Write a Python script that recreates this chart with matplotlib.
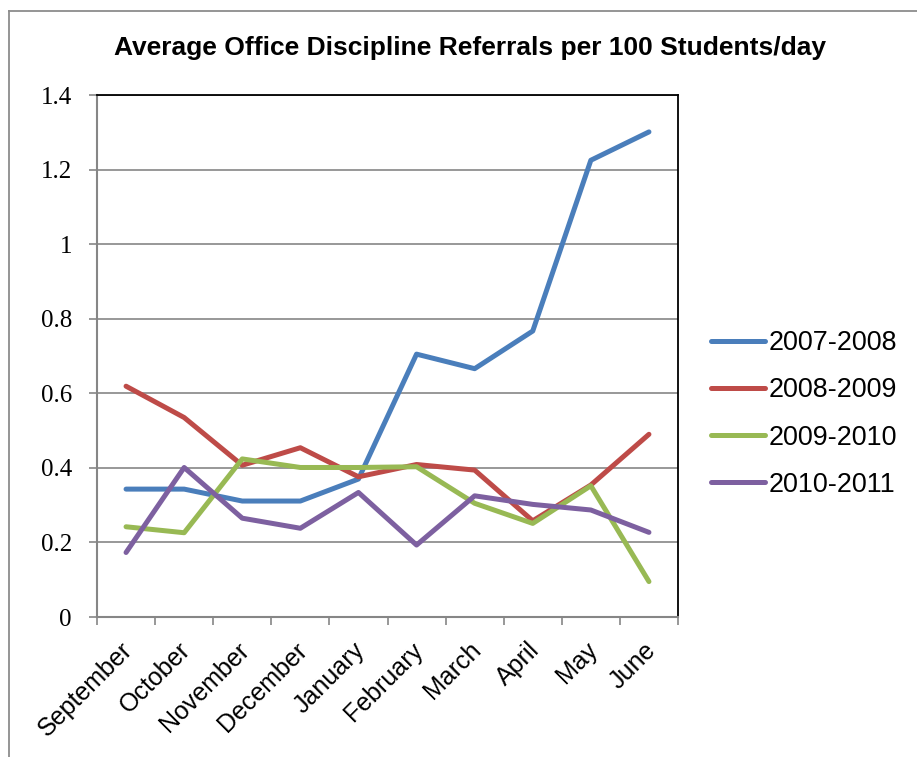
import matplotlib
matplotlib.use("Agg")
import matplotlib.pyplot as plt
from matplotlib.lines import Line2D
from matplotlib.ticker import FixedLocator

# Monthly office discipline referrals per 100 students per day, one series per school year
months = ["September", "October", "November", "December", "January",
          "February", "March", "April", "May", "June"]
years = ["2007-2008", "2008-2009", "2009-2010", "2010-2011"]
ref_2007_2008 = [0.343, 0.343, 0.311, 0.311, 0.370, 0.705, 0.666, 0.767, 1.225, 1.301]
ref_2008_2009 = [0.619, 0.535, 0.407, 0.454, 0.376, 0.409, 0.394, 0.258, 0.354, 0.490]
ref_2009_2010 = [0.242, 0.226, 0.424, 0.401, 0.401, 0.403, 0.305, 0.251, 0.352, 0.095]
ref_2010_2011 = [0.173, 0.401, 0.265, 0.238, 0.334, 0.193, 0.325, 0.302, 0.287, 0.227]
y_ticks = [0, 0.2, 0.4, 0.6, 0.8, 1.0, 1.2, 1.4]
y_tick_labels = ["0", "0.2", "0.4", "0.6", "0.8", "1", "1.2", "1.4"]

series = [ref_2007_2008, ref_2008_2009, ref_2009_2010, ref_2010_2011]
colors = ["#4A7EBB", "#BE4B48", "#98B954", "#7D60A0"]

W, H = 917, 757
fig = plt.figure(figsize=(W / 100, H / 100), dpi=100)
ax = fig.add_axes([97 / W, 1 - 617 / H, (678 - 97) / W, (617 - 95) / H])

x = list(range(len(months)))
for vals, name, col in zip(series, years, colors):
    ax.plot(x, vals, color=col, lw=3.6, label=name,
            solid_capstyle="round", solid_joinstyle="round", zorder=3)

# axes limits and gridlines
ax.set_xlim(-0.5, len(months) - 0.5)
ax.set_ylim(0, 1.4)
ax.set_yticks(y_ticks)
ax.set_yticklabels(y_tick_labels, fontfamily="Liberation Serif", fontsize=18)
ax.yaxis.grid(True, color="#868686", lw=1.2, zorder=1)
ax.set_axisbelow(True)
ax.tick_params(axis="y", direction="out", length=6, width=1.2, color="#868686", pad=12)

# tick marks sit between categories, labels at the category centres
ax.xaxis.set_major_locator(FixedLocator([i - 0.5 for i in range(len(months) + 1)]))
ax.set_xticklabels([""] * (len(months) + 1))
ax.tick_params(axis="x", which="major", direction="out", length=6, width=1.2, color="#868686")
for i, m in enumerate(months):
    ax.annotate(m, xy=(i, 0), xycoords=("data", "axes fraction"),
                xytext=(-4, -15), textcoords="offset points",
                rotation=45, ha="right", va="top", rotation_mode="anchor",
                fontsize=18, fontfamily="Liberation Sans")

for side in ("left", "bottom"):
    ax.spines[side].set_color("#868686")
    ax.spines[side].set_linewidth(1.5)
for side in ("top", "right"):
    ax.spines[side].set_color("black")
    ax.spines[side].set_linewidth(1.3)

fig.text(470 / W, 1 - 55 / H, "Average Office Discipline Referrals per 100 Students/day",
         ha="center", va="baseline", fontsize=19, fontweight="bold",
         fontfamily="Liberation Sans")

ax.legend(loc="center left", bbox_to_anchor=(711 / W, 1 - 414 / H),
          bbox_transform=fig.transFigure, frameon=False,
          prop={"family": "Liberation Sans", "size": 19.4},
          handlelength=2.0, handletextpad=0.15, labelspacing=0.78,
          borderpad=0, borderaxespad=0)

# outer chart frame (left and top edges)
fig.add_artist(Line2D([9 / W, 9 / W], [0, 1 - 11 / H], transform=fig.transFigure,
                      color="#8c8c8c", lw=1.3))
fig.add_artist(Line2D([9 / W, 1], [1 - 11 / H, 1 - 11 / H], transform=fig.transFigure,
                      color="#8c8c8c", lw=1.3))

fig.savefig("out.png", dpi=100, facecolor="white")
